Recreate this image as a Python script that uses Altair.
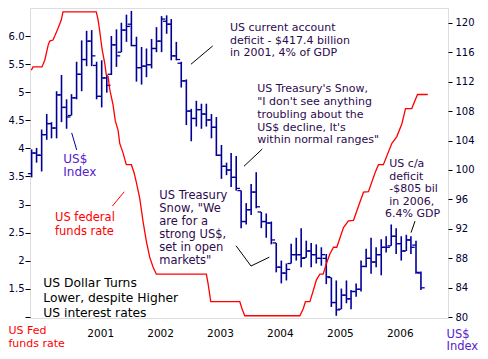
import altair as alt
import pandas as pd

# ---------------- data ----------------
months = pd.date_range("1999-11-10", periods=79, freq=pd.DateOffset(months=1)).strftime("%Y-%m-%d").tolist()

usd_high = [102.8, 103.0, 105.5, 107.6, 106.5, 110.7, 112.9, 109.6, 110.3, 114.7,
            117.6, 118.9, 119.0, 114.7, 114.9, 112.9, 118.2, 119.1, 120.0, 121.1,
            121.6, 118.1, 116.7, 116.5, 117.8, 119.4, 120.9, 121.0, 120.5, 117.4,
            114.7, 112.3, 108.3, 109.4, 109.0, 109.0, 107.6, 107.2, 103.4, 101.0,
            102.3, 101.9, 97.2, 95.5, 98.1, 99.7, 94.3, 94.1, 93.0, 90.1,
            87.7, 87.3, 90.0, 90.8, 92.1, 90.4, 90.1, 89.9, 89.5, 88.6,
            85.4, 85.0, 83.9, 85.0, 83.7, 84.6, 87.7, 89.3, 90.8, 89.5,
            90.6, 91.0, 92.6, 92.1, 91.0, 91.2, 91.0, 90.4, 86.2]
usd_low = [99.0, 101.0, 99.8, 104.1, 104.3, 104.3, 106.5, 105.6, 107.4, 109.6,
           110.7, 114.1, 114.1, 109.6, 108.5, 110.5, 112.9, 114.0, 116.0, 117.4,
           116.8, 112.0, 111.6, 112.6, 113.8, 116.0, 116.0, 118.5, 114.9, 114.9,
           111.2, 106.1, 103.9, 105.9, 105.6, 105.9, 104.3, 101.9, 98.8, 99.3,
           97.7, 97.2, 92.1, 92.6, 93.9, 94.8, 92.1, 90.8, 89.9, 86.1,
           84.6, 85.0, 87.3, 87.7, 86.8, 88.1, 86.8, 87.3, 87.0, 84.5,
           81.4, 80.2, 81.1, 81.9, 81.1, 82.8, 83.5, 86.8, 85.9, 86.8,
           85.7, 88.8, 89.7, 88.6, 87.7, 89.0, 88.6, 85.9, 83.7]
usd_open = [99.5, 102.3, 102.0, 104.8, 106.3, 105.7, 110.2, 108.5, 107.4, 109.8,
            113.0, 115.0, 117.5, 114.2, 110.0, 112.5, 113.0, 117.0, 116.0, 119.0,
            119.8, 116.9, 113.9, 114.1, 114.3, 116.5, 117.5, 120.2, 119.8, 115.5,
            114.5, 112.1, 108.0, 107.0, 108.2, 107.6, 106.8, 105.8, 102.0, 100.5,
            100.0, 99.0, 97.2, 93.0, 94.6, 97.0, 94.3, 93.0, 92.8, 90.1,
            86.8, 86.0, 87.3, 88.5, 88.5, 88.1, 89.0, 88.5, 88.0, 88.0,
            85.4, 82.0, 81.1, 83.0, 82.5, 83.5, 83.8, 86.9, 88.0, 87.5,
            88.5, 89.5, 89.7, 91.0, 90.0, 89.0, 90.5, 89.8, 86.0]
usd_close = [102.3, 102.0, 104.8, 106.3, 105.7, 110.2, 108.5, 107.2, 109.8, 113.0,
             115.0, 117.5, 115.5, 110.0, 112.5, 111.5, 117.0, 115.5, 119.0, 119.5,
             116.9, 113.9, 114.1, 114.3, 116.5, 117.5, 120.5, 119.8, 115.5, 115.0,
             112.1, 108.0, 107.0, 108.2, 107.6, 106.8, 105.8, 102.0, 100.5, 100.0,
             99.0, 97.5, 93.0, 94.6, 97.0, 95.0, 93.0, 92.8, 90.5, 86.8,
             86.0, 86.5, 88.5, 88.5, 88.0, 89.0, 88.5, 88.0, 88.5, 85.5,
             82.0, 81.0, 83.0, 82.5, 83.5, 83.8, 86.9, 88.0, 87.5, 88.5,
             89.5, 89.5, 91.0, 90.0, 89.0, 90.5, 89.5, 86.1, 84.0]

fed_dates = ["1999-11-08", "1999-11-18", "2000-01-12", "2000-01-29", "2000-02-18", "2000-02-28",
             "2000-03-19", "2000-03-30", "2000-04-19", "2000-05-09", "2000-05-19", "2000-12-08",
             "2000-12-19", "2000-12-29", "2001-01-12", "2001-01-29", "2001-02-07", "2001-02-18",
             "2001-02-28", "2001-03-20", "2001-04-03", "2001-04-20", "2001-04-30", "2001-05-20",
             "2001-06-09", "2001-07-10", "2001-07-26", "2001-08-09", "2001-08-30", "2001-09-19",
             "2001-10-09", "2001-10-30", "2001-11-19", "2001-12-09", "2002-10-10", "2002-10-20",
             "2002-11-06", "2003-05-02", "2003-05-16", "2003-06-01", "2004-05-02", "2004-05-22",
             "2004-06-05", "2004-07-02", "2004-07-22", "2004-08-11", "2004-09-01", "2004-09-21",
             "2004-10-11", "2004-11-01", "2004-11-23", "2004-12-13", "2005-01-23", "2005-02-22",
             "2005-03-25", "2005-05-04", "2005-05-25", "2005-06-24", "2005-08-04", "2005-08-24",
             "2005-09-23", "2005-11-14", "2005-12-14", "2006-01-14", "2006-02-05", "2006-03-15",
             "2006-04-19", "2006-06-21"]
fed_rate = [5.39, 5.45, 5.45, 5.57, 5.83, 5.91, 5.93, 6.0, 6.14, 6.29, 6.43, 6.43, 6.29, 6.09,
            5.77, 5.51, 5.31, 5.28, 5.05, 4.78, 4.49, 4.32, 4.09, 3.92, 3.71, 3.71, 3.57, 3.40,
            3.11, 2.70, 2.35, 2.06, 1.89, 1.76, 1.76, 1.60, 1.27, 1.27, 1.14, 1.02, 1.02, 1.14,
            1.27, 1.27, 1.46, 1.66, 1.76, 1.76, 1.95, 2.12, 2.24, 2.24, 2.59, 2.71, 2.72, 3.05,
            3.22, 3.23, 3.57, 3.71, 3.71, 4.09, 4.21, 4.44, 4.71, 4.71, 4.96, 4.96]

year_ticks = [2001, 2002, 2003, 2004, 2005, 2006]
left_ticks = [1, 1.5, 2, 2.5, 3, 3.5, 4, 4.5, 5, 5.5, 6]
right_ticks = [80, 84, 88, 92, 96, 100, 104, 108, 112, 116, 120]

usd = pd.DataFrame({"date": months, "open": usd_open, "high": usd_high,
                    "low": usd_low, "close": usd_close})
fed = pd.DataFrame({"date": fed_dates, "rate": fed_rate})

# ---------------- style ----------------
FONT = "DejaVu Sans"
W, H = 418, 310
NAVY = "#000099"
RED = "#FF0000"
ORANGE = "#FFCC99"
ANN = "#2d0a4e"
USDTXT = "#5522cc"


def px(X):
    return X - 30


def py(Y):
    if Y <= 318:
        return 318 - (318 - Y) * H / 316.0 - 8
    return Y - 8


x_enc = alt.X(
    "date:T",
    scale=alt.Scale(type="utc",
                    domain=[alt.DateTime(year=1999, month=10, date=31, utc=True),
                            alt.DateTime(year=2006, month=10, date=22, utc=True)]),
    axis=alt.Axis(values=[alt.DateTime(year=y, month=1, date=1, utc=True) for y in year_ticks],
                  format="%Y", formatType="utc", title=None, grid=False, domain=False,
                  ticks=False, tickSize=0, labelPadding=10, labelColor="#000000",
                  labelFontSize=10.5, labelFont=FONT, labelFlush=False),
)

usd_scale = alt.Scale(domain=[79.9, 122.0], nice=False, zero=False)
usd_axis = alt.Axis(orient="right", values=right_ticks, title=None, grid=False, domain=False,
                    tickColor="#000000", tickSize=4, labelPadding=3, labelColor="#000033",
                    labelFont=FONT, labelFontSize=10)

bars = alt.Chart(usd).mark_rule(color=NAVY, strokeWidth=1.6).encode(
    x=x_enc, y=alt.Y("low:Q", scale=usd_scale, axis=usd_axis), y2="high:Q")
opens = alt.Chart(usd).mark_tick(orient="horizontal", size=3.5, thickness=1.3, xOffset=-2,
                                 color=NAVY, opacity=1).encode(
    x=x_enc, y=alt.Y("open:Q", scale=usd_scale, axis=usd_axis))
closes = alt.Chart(usd).mark_tick(orient="horizontal", size=3.5, thickness=1.3, xOffset=2,
                                  color=NAVY, opacity=1).encode(
    x=x_enc, y=alt.Y("close:Q", scale=usd_scale, axis=usd_axis))
usd_layer = alt.layer(bars, opens, closes)

fed_line = alt.Chart(fed).mark_line(color=RED, strokeWidth=1.3).encode(
    x=x_enc,
    y=alt.Y("rate:Q", scale=alt.Scale(domain=[0.98, 6.5], nice=False, zero=False),
            axis=alt.Axis(orient="left", values=left_ticks, title=None, grid=False,
                          domain=False, tickColor="#000000", tickSize=5, labelPadding=1,
                          labelColor="#000033", labelFont=FONT, labelFontSize=10,
                          labelExpr="datum.value == 1 ? '' : (datum.value == 6 ? '6.0' : toString(datum.value))")))

dummy = alt.Data(values=[{"a": 1}])

annotations = [
    (["US current account", "deficit - $417.4 billion", "in 2001, 4% of GDP"], 230, 21.7, 11, 12.5, ANN),
    (["US Treasury's Snow,", "\"I don't see anything", "troubling about the",
      "US$ decline, It's", "within normal ranges\""], 257.3, 84, 11, 12.75, ANN),
    (["US Treasury", "Snow, \"We", "are for a", "strong US$,", "set in open", "markets\""],
     159.3, 193.3, 11.5, 13, ANN),
    (["US c/a", "deficit", "-$805 bil", "in 2006,"], 389.3, 160, 11, 12.75, ANN),
    (["6.4% GDP"], 385, 211, 11, 12.75, ANN),
    (["US$", "Index"], 63.3, 156.7, 12, 13.3, USDTXT),
    (["US federal", "funds rate"], 55, 215.7, 11.5, 13.3, RED),
    (["US Dollar Turns", "Lower, despite Higher", "US interest rates"], 43.3, 281.7, 12.3, 15, "#000000"),
    (["US Fed", "funds rate"], 8.5, 330, 11, 13.3, RED),
    (["US$", "Index"], 446.5, 334, 11.5, 12.7, USDTXT),
]

pointers = [
    ((191, 59.3), (212.7, 40.7), "#000000"),
    ((244, 163.3), (262.3, 145.7), "#000000"),
    ((236, 244.3), (251, 265), "#000000"),
    ((251, 265), (269.3, 256), "#000000"),
    ((415, 219.3), (411, 231), "#000000"),
    ((71.7, 129.3), (76.7, 146.7), NAVY),
    ((112.3, 204), (124.3, 189.3), RED),
]

layers = [usd_layer, fed_line]
for (a, b, c) in pointers:
    layers.append(alt.Chart(dummy).mark_rule(color=c, strokeWidth=1).encode(
        x=alt.value(px(a[0])), y=alt.value(py(a[1])),
        x2=alt.value(px(b[0])), y2=alt.value(py(b[1]))))
for (lines, X, Y, fs, lh, col) in annotations:
    layers.append(alt.Chart(dummy).mark_text(
        text=lines, align="left", baseline="top", font=FONT, fontSize=fs,
        lineHeight=lh, color=col).encode(
        x=alt.value(px(X)), y=alt.value(py(Y) - 0.47 * fs)))

chart = alt.layer(*layers).resolve_scale(y="independent").properties(
    width=W, height=H,
    autosize=alt.AutoSizeParams(type="none"),
    padding={"left": 22, "top": 0, "right": 32, "bottom": 36},
).configure_view(stroke=ORANGE, strokeWidth=1.2).configure(background="#FFFFFF")

chart.save("out.html", embed_options={"renderer": "svg", "actions": False})
